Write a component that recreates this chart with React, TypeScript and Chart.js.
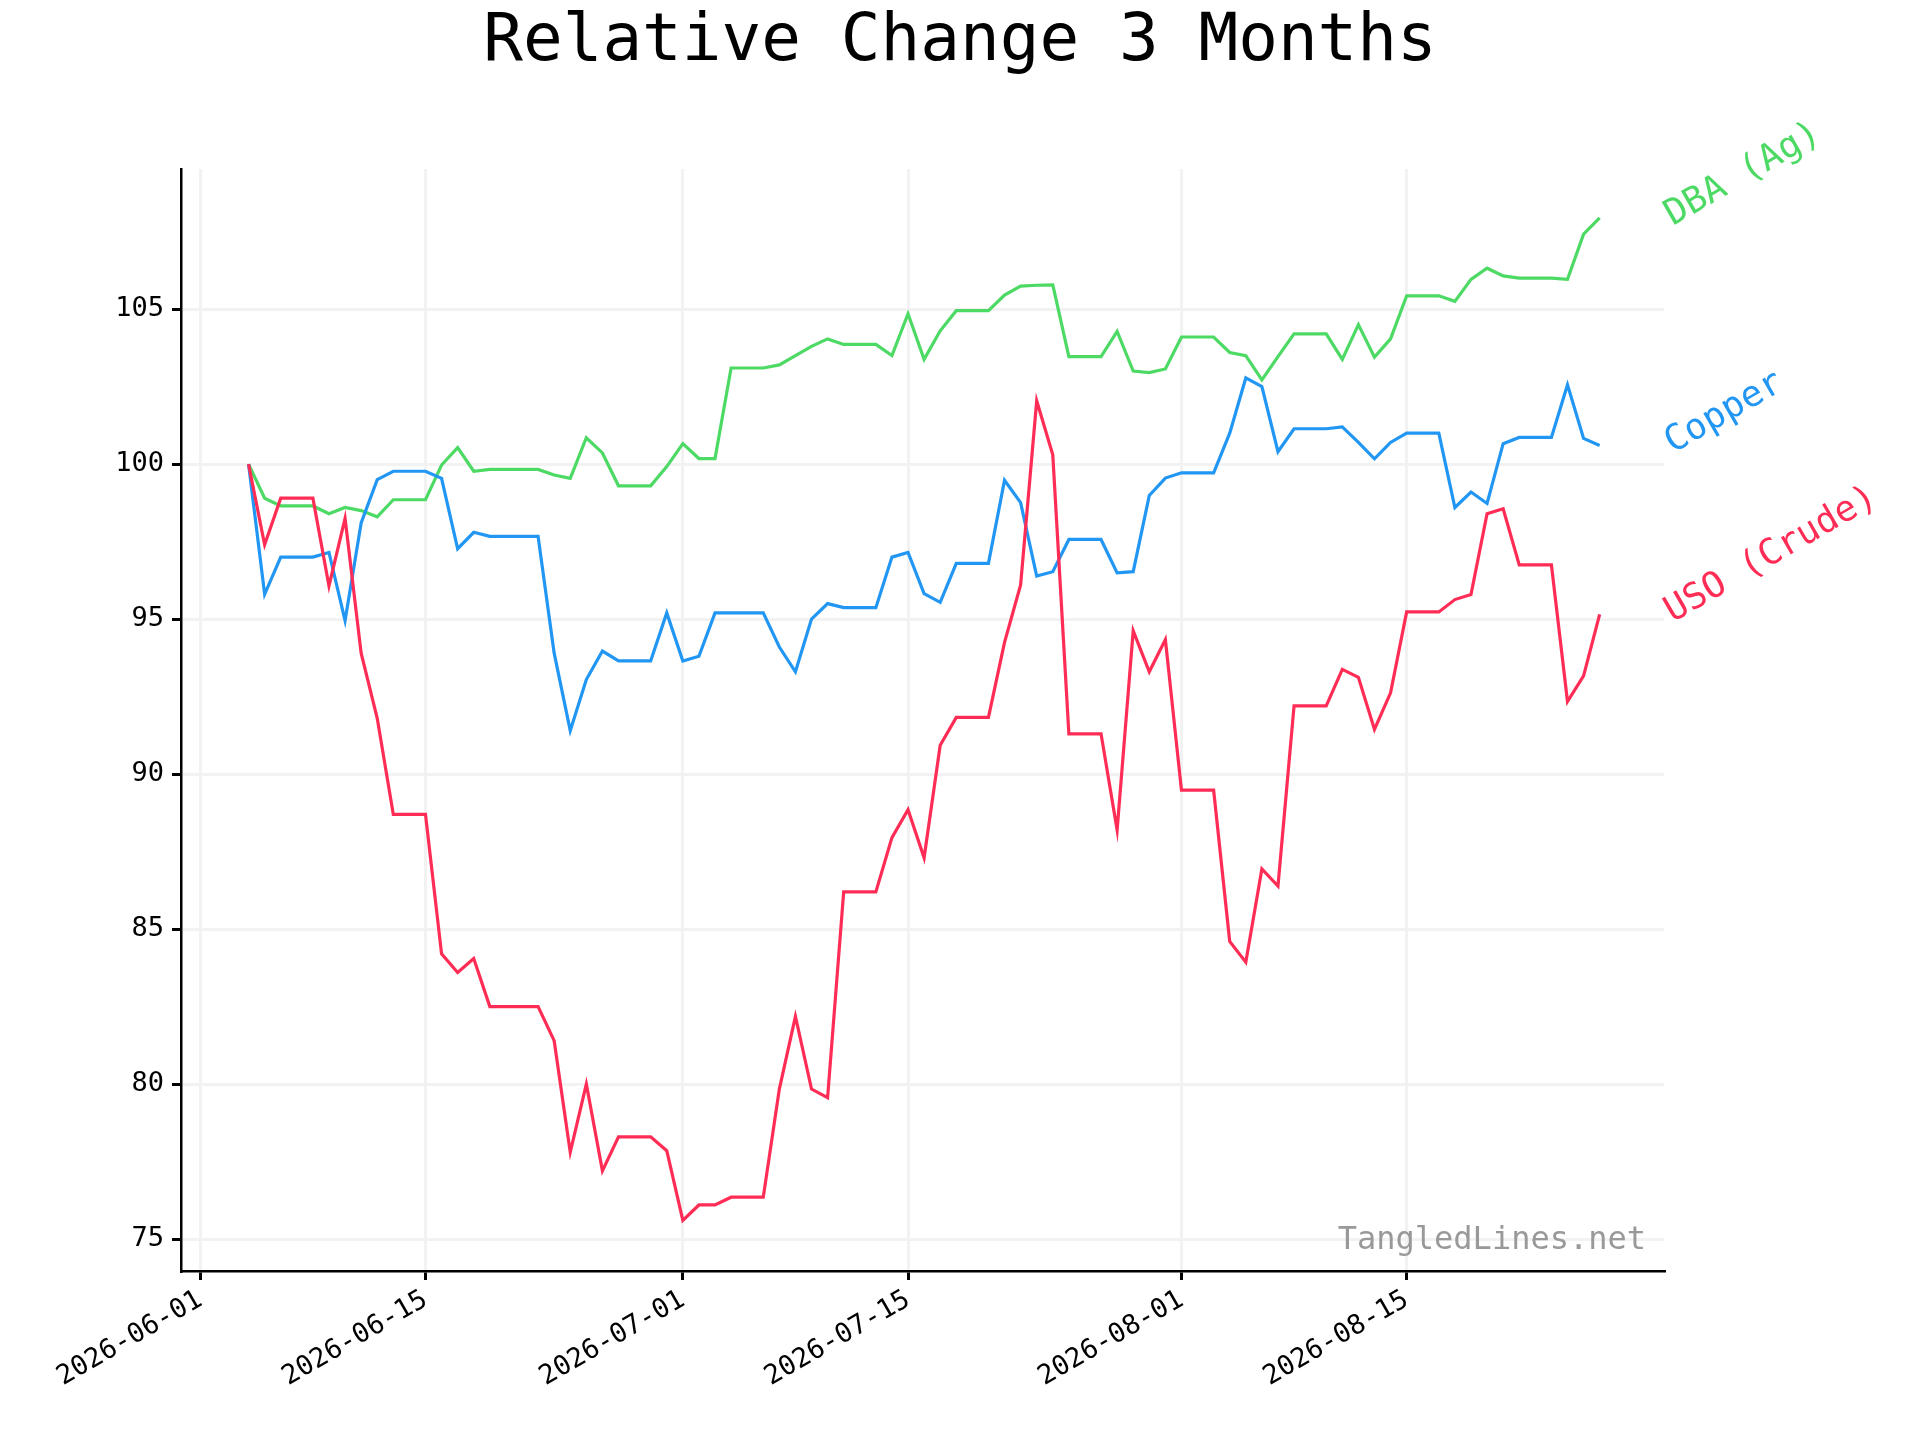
import React, { useEffect, useRef } from "react";
import { Chart, registerables } from "chart.js";
Chart.register(...registerables);

const startDate = "2026-06-04";
const xTickDays = [-3, 11, 27, 41, 58, 72];
const xTickLabels = ["2026-06-01", "2026-06-15", "2026-07-01", "2026-07-15", "2026-08-01", "2026-08-15"];
const yTicks = [75, 80, 85, 90, 95, 100, 105];

const dba = [
  100, 98.9, 98.65, 98.65, 98.65, 98.4, 98.6, 98.5, 98.3, 98.85, 98.85, 98.85, 99.97, 100.53, 99.77, 99.83, 99.83, 99.83, 99.83, 99.65,
  99.54, 100.85, 100.36, 99.3, 99.3, 99.3, 99.92, 100.66, 100.18, 100.18, 103.1, 103.1, 103.1, 103.2, 103.5, 103.8, 104.04, 103.86, 103.86, 103.86,
  103.5, 104.85, 103.38, 104.3, 104.95, 104.95, 104.95, 105.45, 105.74, 105.77, 105.78, 103.47, 103.47, 103.47, 104.28, 103.0, 102.95, 103.07, 104.1, 104.1,
  104.1, 103.6, 103.5, 102.72, 103.47, 104.2, 104.2, 104.2, 103.38, 104.5, 103.45, 104.04, 105.43, 105.43, 105.43, 105.25, 105.96, 106.32, 106.07, 106.0,
  106.0, 106.0, 105.96, 107.42, 107.94,
];
const copper = [
  100, 95.8, 97.0, 97.0, 97.0, 97.15, 94.95, 98.1, 99.5, 99.77, 99.77, 99.77, 99.54, 97.27, 97.8, 97.67, 97.67, 97.67, 97.67, 93.9,
  91.4, 93.05, 93.97, 93.65, 93.65, 93.65, 95.2, 93.65, 93.8, 95.2, 95.2, 95.2, 95.2, 94.1, 93.3, 95.0, 95.5, 95.37, 95.37, 95.37,
  97.0, 97.15, 95.82, 95.54, 96.8, 96.8, 96.8, 99.48, 98.76, 96.39, 96.53, 97.57, 97.57, 97.57, 96.49, 96.53, 98.99, 99.55, 99.72, 99.72,
  99.72, 101.0, 102.78, 102.5, 100.4, 101.14, 101.14, 101.14, 101.2, 100.7, 100.17, 100.7, 101.0, 101.0, 101.0, 98.6, 99.1, 98.73, 100.66, 100.86,
  100.86, 100.86, 102.56, 100.83, 100.6,
];
const uso = [
  100, 97.4, 98.9, 98.9, 98.9, 96.07, 98.25, 93.9, 91.8, 88.7, 88.7, 88.7, 84.2, 83.6, 84.05, 82.5, 82.5, 82.5, 82.5, 81.4,
  77.8, 80.0, 77.2, 78.3, 78.3, 78.3, 77.85, 75.6, 76.1, 76.1, 76.35, 76.35, 76.35, 79.84, 82.18, 79.84, 79.56, 86.2, 86.2, 86.2,
  87.95, 88.85, 87.3, 90.93, 91.83, 91.83, 91.83, 94.25, 96.1, 102.04, 100.3, 91.3, 91.3, 91.3, 88.2, 94.62, 93.3, 94.34, 89.48, 89.48,
  89.48, 84.6, 83.93, 86.94, 86.39, 92.2, 92.2, 92.2, 93.38, 93.12, 91.44, 92.62, 95.23, 95.23, 95.23, 95.63, 95.79, 98.4, 98.56, 96.75,
  96.75, 96.75, 92.34, 93.17, 95.15,
];

const seriesNames = ["USO (Crude)", "Copper", "DBA (Ag)"];
const seriesColors = ["#ff2d55", "#2196f3", "#4cd964"];
const seriesData = [uso, copper, dba];

const MONO = "'DejaVu Sans Mono', monospace";

export default function App() {
  const ref = useRef<HTMLCanvasElement>(null);
  useEffect(() => {
    const overlay = {
      id: "overlay",
      afterDraw(chart: any) {
        const ctx = chart.ctx;
        const area = chart.chartArea;
        const ys = chart.scales.y;
        ctx.save();
        ctx.fillStyle = "#000";
        ctx.font = `66px ${MONO}`;
        ctx.textAlign = "center";
        ctx.textBaseline = "middle";
        ctx.fillText("Relative Change 3 Months", 960, 43);
        seriesData.forEach((arr, k) => {
          const y = ys.getPixelForValue(arr[arr.length - 1]);
          ctx.save();
          ctx.translate(area.right + 4, y);
          ctx.rotate(-Math.PI / 6);
          ctx.fillStyle = seriesColors[k];
          ctx.font = `36px ${MONO}`;
          ctx.textAlign = "left";
          ctx.textBaseline = "middle";
          ctx.fillText(seriesNames[k], 0, 0);
          ctx.restore();
        });
        ctx.fillStyle = "#999";
        ctx.font = `32px ${MONO}`;
        ctx.textAlign = "right";
        ctx.textBaseline = "middle";
        ctx.fillText("TangledLines.net", area.right - 18, area.bottom - 30);
        ctx.restore();
      },
    };
    const chart = new Chart(ref.current!, {
      type: "line",
      data: {
        datasets: seriesData.map((arr, k) => ({
          label: seriesNames[k],
          data: arr.map((v, i) => ({ x: i, y: v })),
          borderColor: seriesColors[k],
          borderWidth: 3.2,
          pointRadius: 0,
          tension: 0,
          fill: false,
        })),
      },
      options: {
        animation: false,
        responsive: false,
        devicePixelRatio: 1,
        layout: { padding: { top: 169, right: 256, left: 0, bottom: 0 } },
        plugins: { legend: { display: false }, title: { display: false }, tooltip: { enabled: false } },
        scales: {
          x: {
            type: "linear",
            min: -4.2,
            max: 88,
            afterBuildTicks: (s: any) => { s.ticks = xTickDays.map((v) => ({ value: v })); },
            afterFit: (s: any) => { s.height = 1440 - 1271; },
            ticks: {
              minRotation: 30,
              maxRotation: 30,
              autoSkip: false,
              color: "#000",
              font: { family: MONO, size: 27 },
              padding: 4,
              callback: (v: any) => xTickLabels[xTickDays.indexOf(v)] ?? "",
            },
            grid: { color: "#f2f2f2", lineWidth: 3, tickColor: "#000", tickLength: 9, drawTicks: true },
            border: { color: "#000", width: 2.5 },
          },
          y: {
            type: "linear",
            min: 73.97,
            max: 109.52,
            afterBuildTicks: (s: any) => { s.ticks = yTicks.map((v) => ({ value: v })); },
            afterFit: (s: any) => { s.width = 181; },
            ticks: { color: "#000", font: { family: MONO, size: 27 }, padding: 8 },
            grid: { color: "#f2f2f2", lineWidth: 3, tickColor: "#000", tickLength: 9, drawTicks: true },
            border: { color: "#000", width: 2.5 },
          },
        },
      },
      plugins: [overlay],
    } as any);
    return () => chart.destroy();
  }, []);
  return (
    <div style={{ position: "absolute", left: 0, top: 0, width: 1920, height: 1440, background: "#fff" }}>
      <canvas ref={ref} width={1920} height={1440} />
    </div>
  );
}
